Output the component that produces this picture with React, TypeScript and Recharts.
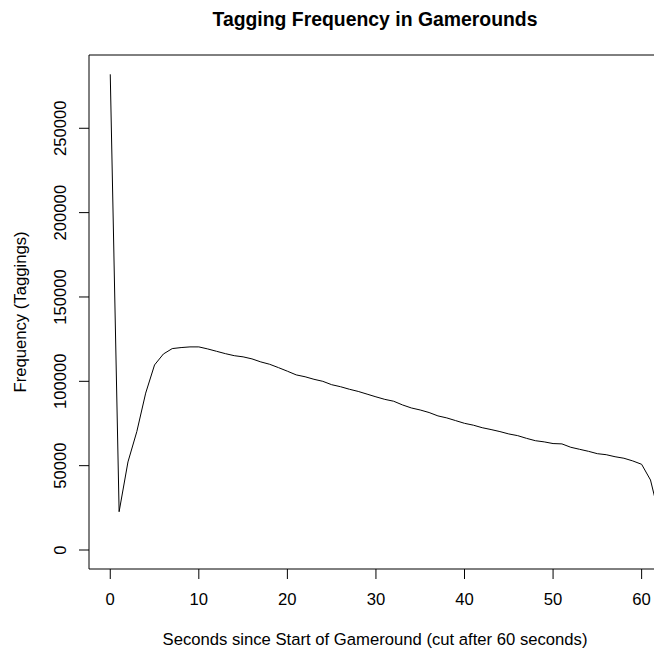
import React from "react";
import { LineChart, Line, XAxis, YAxis, ReferenceArea } from "recharts";

const seconds = [
  0, 1, 2, 3, 4, 5, 6, 7, 8, 9, 10, 11, 12, 13, 14, 15, 16, 17, 18, 19, 20,
  21, 22, 23, 24, 25, 26, 27, 28, 29, 30, 31, 32, 33, 34, 35, 36, 37, 38, 39,
  40, 41, 42, 43, 44, 45, 46, 47, 48, 49, 50, 51, 52, 53, 54, 55, 56, 57, 58,
  59, 60, 61, 62,
];

const taggings = [
  282000, 22700, 52200, 70200, 93000, 109700, 116200, 119400, 120000, 120400,
  120400, 119200, 117800, 116400, 115200, 114500, 113300, 111500, 110100,
  108100, 106000, 103800, 102700, 101200, 100000, 98000, 96800, 95300, 94000,
  92400, 90800, 89300, 88200, 86000, 84200, 83000, 81500, 79500, 78300, 76700,
  75100, 74000, 72500, 71400, 70200, 68800, 67800, 66200, 64800, 64100, 63100,
  62900, 60900, 59700, 58500, 57100, 56500, 55300, 54400, 52800, 50800, 41500,
  20000,
];

const xTicks = [0, 10, 20, 30, 40, 50, 60];
const yTicks = [0, 50000, 100000, 150000, 200000, 250000];

const xDomain: [number, number] = [-2.4, 62.3];
const yDomain: [number, number] = [-11260, 293440];

const title = "Tagging Frequency in Gamerounds";
const xLabel = "Seconds since Start of Gameround (cut after 60 seconds)";
const yLabel = "Frequency (Taggings)";

const data = seconds.map((s, i) => ({ s, v: taggings[i] }));

const FONT = "'Liberation Sans', Arial, Helvetica, sans-serif";
const FS = 16.67;

const YTick = (props: any) => {
  const { x, y, payload } = props;
  return (
    <text
      x={x}
      y={y}
      transform={`rotate(-90 ${x} ${y})`}
      textAnchor="middle"
      fontSize={FS}
      fontFamily={FONT}
      fill="#000"
    >
      {payload.value}
    </text>
  );
};

export default function App() {
  return (
    <div
      style={{
        position: "absolute",
        left: 0,
        top: 0,
        width: 654,
        height: 650,
        overflow: "hidden",
        background: "#fff",
      }}
    >
      <LineChart
        width={700}
        height={650}
        data={data}
        margin={{ top: 55, right: 38, bottom: 0, left: 0 }}
      >
        <XAxis
          dataKey="s"
          type="number"
          domain={xDomain}
          allowDataOverflow
          ticks={xTicks}
          axisLine={false}
          tickSize={10}
          tickMargin={14.5}
          height={81}
          stroke="#000"
          tick={{ fill: "#000", fontSize: FS, fontFamily: FONT }}
          interval={0}
        />
        <YAxis
          type="number"
          domain={yDomain}
          allowDataOverflow
          ticks={yTicks}
          axisLine={false}
          tickSize={10}
          tickMargin={13.3}
          width={89}
          stroke="#000"
          tick={<YTick />}
          interval={0}
        />
        <ReferenceArea
          x1={xDomain[0]}
          x2={xDomain[1]}
          y1={yDomain[0]}
          y2={yDomain[1]}
          fill="none"
          fillOpacity={0}
          stroke="#000"
          strokeWidth={1}
          ifOverflow="visible"
        />
        <Line
          dataKey="v"
          type="linear"
          stroke="#000"
          strokeWidth={1}
          dot={false}
          isAnimationActive={false}
        />
      </LineChart>
      <svg
        width={654}
        height={650}
        style={{ position: "absolute", left: 0, top: 0, pointerEvents: "none" }}
      >
        <text
          x={375}
          y={26}
          textAnchor="middle"
          fontSize={19.4}
          fontWeight="bold"
          fontFamily={FONT}
          fill="#000"
        >
          {title}
        </text>
        <text
          x={375}
          y={645}
          textAnchor="middle"
          fontSize={FS}
          fontFamily={FONT}
          fill="#000"
        >
          {xLabel}
        </text>
        <text
          x={25.7}
          y={312}
          transform="rotate(-90 25.7 312)"
          textAnchor="middle"
          fontSize={FS}
          fontFamily={FONT}
          fill="#000"
        >
          {yLabel}
        </text>
      </svg>
    </div>
  );
}
